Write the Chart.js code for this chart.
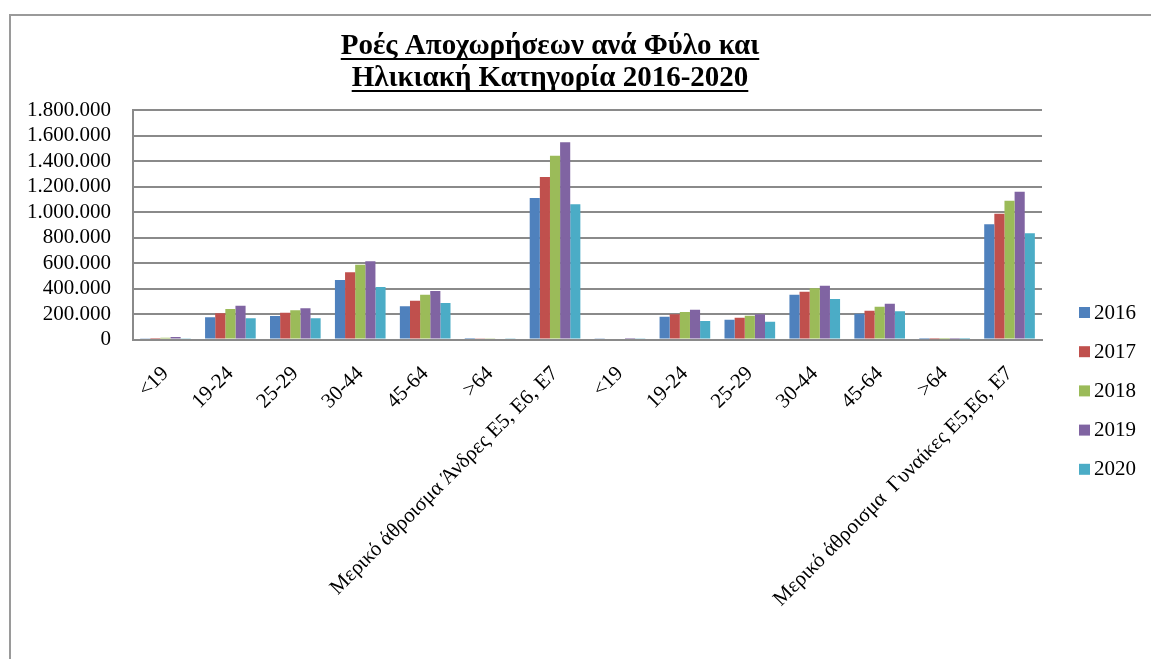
<!DOCTYPE html>
<html>
<head>
<meta charset="utf-8">
<script src="https://cdn.jsdelivr.net/npm/chart.js@4.4.1/dist/chart.umd.min.js"></script>
<style>
  html, body { margin: 0; padding: 0; background: #fff; }
  #wrap { width: 1151px; height: 659px; position: relative; }
</style>
</head>
<body>
<div id="wrap"><canvas id="exitsChart" width="1151" height="659"></canvas></div>
<script>
const categories = [
  '<19', '19-24', '25-29', '30-44', '45-64', '>64', 'Μερικό άθροισμα Άνδρες Ε5, Ε6, Ε7',
  '<19', '19-24', '25-29', '30-44', '45-64', '>64', 'Μερικό άθροισμα  Γυναίκες Ε5,Ε6, Ε7'
];
const years = ['2016', '2017', '2018', '2019', '2020'];
const colors = ['#4F81BD', '#C0504D', '#9BBB59', '#8064A2', '#4BACC6'];

// values
const values2016 = [10000, 174000, 184000, 467000, 260000, 3000, 1110000, 5000, 179000, 155000, 351000, 202000, 1000, 903000];
const values2017 = [12000, 205000, 210000, 527000, 304000, 5000, 1274000, 8000, 198000, 171000, 375000, 226000, 1000, 987000];
const values2018 = [14000, 239000, 229000, 587000, 351000, 6000, 1442000, 8000, 216000, 187000, 401000, 257000, 1000, 1089000];
const values2019 = [20000, 265000, 245000, 613000, 380000, 8000, 1547000, 12000, 234000, 198000, 422000, 281000, 1000, 1159000];
const values2020 = [9000, 166000, 166000, 412000, 286000, 5000, 1060000, 5000, 145000, 140000, 318000, 221000, 1000, 833000];

const titleLines = ['Ροές Αποχωρήσεων ανά Φύλο και', 'Ηλικιακή Κατηγορία 2016-2020'];
const yMax = 1800000;
const yStep = 200000;

const serif = "'Liberation Serif', 'Times New Roman', serif";

function greekNumber(v) {
  return String(v).replace(/\B(?=(\d{3})+(?!\d))/g, '.');
}

// outer frame, underlined title and the legend on the right
const decorPlugin = {
  id: 'decor',
  beforeDraw(chart) {
    const ctx = chart.ctx;
    ctx.save();
    ctx.strokeStyle = '#9a9a9a';
    ctx.lineWidth = 2;
    ctx.strokeRect(10, 15, 1300, 800);
    ctx.restore();
  },
  afterDraw(chart) {
    const ctx = chart.ctx;
    ctx.save();
    ctx.fillStyle = '#000';
    ctx.strokeStyle = '#000';
    ctx.font = 'bold 29px ' + serif;
    ctx.textAlign = 'center';
    ctx.textBaseline = 'alphabetic';
    const baselines = [54, 86];
    titleLines.forEach((line, i) => {
      ctx.fillText(line, 550, baselines[i]);
      const w = ctx.measureText(line).width;
      ctx.lineWidth = 2;
      ctx.beginPath();
      ctx.moveTo(550 - w / 2, baselines[i] + 5);
      ctx.lineTo(550 + w / 2, baselines[i] + 5);
      ctx.stroke();
    });

    ctx.font = '21px ' + serif;
    ctx.textAlign = 'left';
    ctx.textBaseline = 'middle';
    chart.data.datasets.forEach((ds, i) => {
      const cy = 312 + i * 39.2;
      ctx.fillStyle = ds.backgroundColor;
      ctx.fillRect(1079, cy - 5, 11, 11);
      ctx.fillStyle = '#000';
      ctx.fillText(ds.label, 1094, cy + 1);
    });
    ctx.restore();
  }
};

document.addEventListener('DOMContentLoaded', function() {
  const series = [values2016, values2017, values2018, values2019, values2020];
  const ctx = document.getElementById('exitsChart').getContext('2d');
  new Chart(ctx, {
    type: 'bar',
    data: {
      labels: categories,
      datasets: years.map((y, i) => ({
        label: y,
        data: series[i],
        backgroundColor: colors[i],
        categoryPercentage: 0.78,
        barPercentage: 1.0
      }))
    },
    options: {
      responsive: false,
      animation: false,
      layout: {
        padding: { left: 10, right: 109, top: 110, bottom: 0 }
      },
      plugins: {
        legend: { display: false },
        title: { display: false },
        tooltip: { enabled: false }
      },
      scales: {
        x: {
          grid: { display: false },
          border: { display: true, color: '#8a8a8a', width: 2 },
          ticks: {
            color: '#000',
            font: { family: serif, size: 21 },
            minRotation: 45,
            maxRotation: 45,
            autoSkip: false,
            padding: 14
          },
          afterFit: function(scale) { scale.height = 319.5; }
        },
        y: {
          min: 0,
          max: yMax,
          grid: { color: '#8a8a8a', lineWidth: 2, drawTicks: false },
          border: { display: true, color: '#8a8a8a', width: 2 },
          ticks: {
            stepSize: yStep,
            autoSkip: false,
            color: '#000',
            font: { family: serif, size: 21 },
            padding: 22,
            callback: function(v) { return greekNumber(v); }
          },
          afterFit: function(scale) { scale.width = 123; }
        }
      }
    },
    plugins: [decorPlugin]
  });
});
</script>
</body>
</html>
